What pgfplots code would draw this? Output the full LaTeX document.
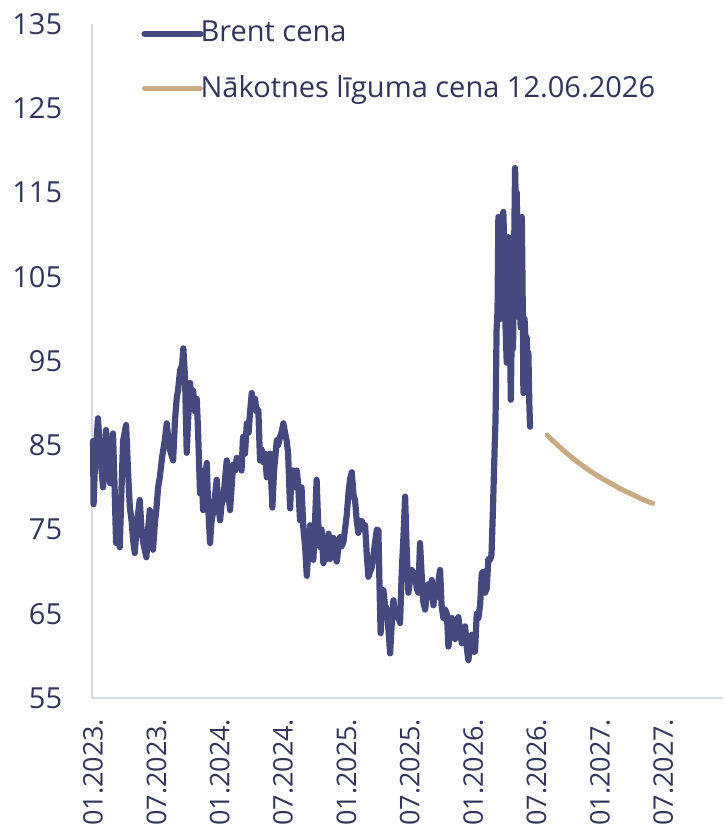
\documentclass[border=0pt]{standalone}
\usepackage{pgfplots}
\pgfplotsset{compat=1.18}
\usepackage{fontspec}
\setmainfont{Open Sans}
\definecolor{brent}{RGB}{69,73,125}
\definecolor{fut}{RGB}{201,170,130}
\definecolor{txt}{RGB}{50,53,88}
\definecolor{axl}{RGB}{215,217,228}
\begin{document}
\fontsize{29}{35}\selectfont
\begin{tikzpicture}
\begin{axis}[
  scale only axis, width=631pt, height=674pt,
  xmin=-0.1, xmax=59.65, ymin=55, ymax=135,
  axis x line=bottom, axis y line=left,
  axis line style={draw=axl, line width=1.2pt, -},
  ytick={55,65,...,135},
  xtick={0,6,...,54},
  xticklabels={01.2023.,07.2023.,01.2024.,07.2024.,01.2025.,07.2025.,01.2026.,07.2026.,01.2027.,07.2027.},
  major tick length=0pt,
  tick label style={text=txt, font=\fontsize{29}{35}\selectfont},
  /pgf/number format/assume math mode=true,
  xticklabel style={rotate=90, anchor=east, font=\fontsize{27}{32}\selectfont},
  xticklabel shift=11pt,
  yticklabel shift=20pt,
  clip=false,
  legend style={at={(rel axis cs:0.078,1.0075)}, anchor=north west, draw=none, fill=none,
    inner sep=0pt, row sep=25pt, font=\fontsize{29}{35}\selectfont, text=txt,
    /tikz/every odd column/.append style={column sep=-5pt}},
  legend cell align=left,
  legend image code/.code={\draw[#1, line cap=round] (0pt,0pt) -- (56pt,0pt);},
]
\addplot[brent, line width=6.2pt, line join=round, line cap=round] coordinates {
(0.0,85.5) (0.05,78.0) (0.19,83) (0.47,88.2) (0.66,84) (0.95,80.0) (1.23,86.8) (1.42,82) (1.61,80.5) (1.89,86.4)
(2.04,80) (2.18,73.4) (2.37,75) (2.53,72.9) (2.70,80) (2.84,85.5) (3.13,87.4) (3.31,82) (3.48,77.7) (3.65,76)
(3.79,73.8) (3.95,72.2) (4.17,76) (4.42,78.5) (4.59,75) (4.74,73.5) (5.05,71.7) (5.21,75) (5.37,77.3) (5.54,74)
(5.68,72.6) (5.87,76) (5.99,77.3) (6.16,80) (6.32,81.2) (6.53,83.5) (6.79,85.6) (6.98,87.6) (7.10,86) (7.29,84.4)
(7.58,83.2) (7.76,88) (7.93,90.7) (8.05,91.5) (8.24,93.9) (8.43,94.5) (8.55,96.5) (8.71,93) (8.87,84.1) (9.00,88)
(9.19,92.4) (9.33,90) (9.47,91.5) (9.66,89) (9.82,90.5) (9.94,86.8) (10.13,79.3) (10.27,82) (10.42,77.3) (10.61,81)
(10.77,82.9) (10.89,78) (11.08,73.4) (11.22,76) (11.36,77) (11.55,79) (11.71,80.9) (11.84,78) (12.03,76.1) (12.17,78)
(12.31,78.5) (12.50,81) (12.66,83.2) (12.78,80) (12.97,77.3) (13.12,80) (13.26,82.7) (13.45,82) (13.61,83.5) (13.73,82.5)
(13.92,83.2) (14.06,82) (14.20,86.0) (14.39,84) (14.56,87.6) (14.73,86.5) (14.87,89) (15.03,91.2) (15.15,90) (15.34,90.5)
(15.48,89) (15.65,89.2) (15.81,83.2) (15.96,84.5) (16.10,83) (16.29,84) (16.45,81.2) (16.62,83) (16.76,84) (16.98,77.6)
(17.14,82) (17.40,85.6) (17.52,85) (17.71,86) (17.85,86.5) (18.02,87.6) (18.18,86.5) (18.34,85.5) (18.47,84) (18.66,77.5)
(18.80,82) (18.97,82) (19.13,80) (19.29,82) (19.41,80.5) (19.60,76.1) (19.74,80) (19.92,75) (20.08,73) (20.24,69.5)
(20.41,73) (20.55,75.5) (20.69,74) (20.86,71.4) (21.02,76) (21.17,80.9) (21.31,76) (21.50,72.9) (21.64,75) (21.81,71)
(21.97,74) (22.13,71.5) (22.30,74.5) (22.44,71.5) (22.58,73) (22.76,74) (22.92,72) (23.08,71.2) (23.25,73) (23.39,74.1)
(23.53,73) (23.70,73.5) (23.86,75) (24.03,76.8) (24.20,79.5) (24.34,81) (24.50,81.8) (24.67,79) (24.81,78.5) (24.97,76)
(25.12,74.6) (25.28,76) (25.45,76) (25.62,75) (25.76,75.5) (25.92,72) (26.07,69.4) (26.23,70) (26.39,70.5) (26.56,72)
(26.71,73.5) (26.87,75) (27.02,74.9) (27.13,68) (27.23,62.7) (27.37,67) (27.49,67.8) (27.65,66) (27.81,65.5) (27.98,63)
(28.13,60.3) (28.29,64) (28.44,66.6) (28.60,65) (28.76,64.5) (28.93,65) (29.07,63.9) (29.23,70) (29.39,74.1) (29.55,78.9)
(29.69,73) (29.86,67.5) (30.02,69) (30.18,70.2) (30.35,69) (30.49,69.8) (30.65,68) (30.80,67.5) (30.96,73.4) (31.10,70)
(31.28,66.3) (31.44,65.5) (31.60,67) (31.75,68.5) (31.91,67) (32.07,69) (32.23,66) (32.39,68) (32.55,67) (32.72,69)
(32.86,70.2) (33.00,66) (33.17,64.5) (33.33,65.5) (33.50,65) (33.65,61.1) (33.81,63) (33.97,64.5) (34.14,63.5) (34.28,62)
(34.44,64) (34.59,64.6) (34.75,63) (34.92,61.5) (35.09,62) (35.23,63.5) (35.39,61) (35.54,59.5) (35.70,61) (35.86,62.5)
(36.03,60.5) (36.17,60.5) (36.33,65) (36.49,64.5) (36.65,66) (36.81,69.8) (36.96,70) (37.12,67.5) (37.28,68) (37.43,71.5)
(37.59,71.4) (37.73,72) (37.88,78) (38.02,84.4) (38.11,88) (38.21,98.7) (38.30,101) (38.38,112.1) (38.49,105) (38.59,100)
(38.68,108) (38.78,103) (38.85,112.7) (38.97,107) (39.06,99) (39.17,94.8) (39.25,104) (39.33,109.7) (39.44,101) (39.56,90.4)
(39.65,99) (39.77,96.5) (39.87,108) (39.96,117.9) (40.06,112) (40.12,115) (40.20,106) (40.27,100.2) (40.39,104) (40.49,99)
(40.60,112.1) (40.67,104) (40.75,91.2) (40.86,100) (40.96,97) (41.06,97.8) (41.15,94) (41.22,96) (41.31,90) (41.38,87.2)
};
\addlegendentry{Brent cena}
\addplot[fut, line width=5pt, line cap=round, smooth] coordinates {
(43,86.2) (44,85.0) (45,83.9) (46,82.9) (47,82.0) (48,81.2) (49,80.5) (50,79.8) (51,79.2) (52,78.6) (53,78.1)
};
\addlegendentry{Nākotnes līguma cena 12.06.2026}
\end{axis}
\pgfresetboundingbox
\path[use as bounding box] ([xshift=-92pt,yshift=-131pt]current axis.south west) rectangle ([yshift=24pt]current axis.north east);
\end{tikzpicture}
\end{document}
